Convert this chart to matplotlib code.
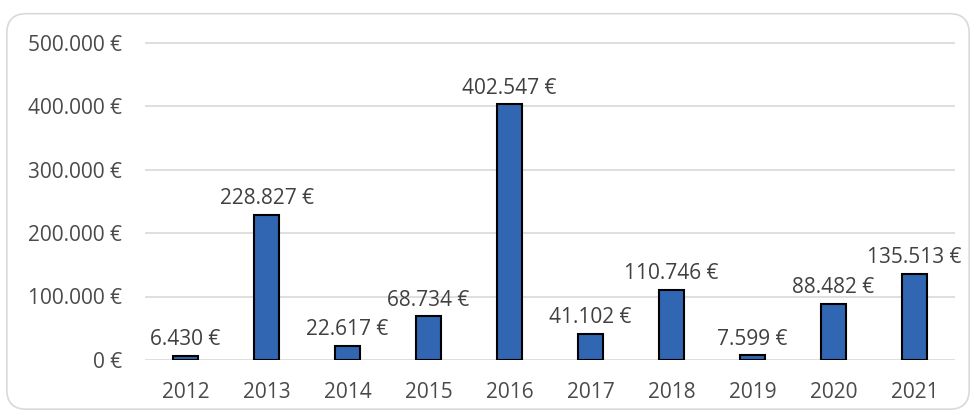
import matplotlib.pyplot as plt
from matplotlib.patches import FancyBboxPatch

years = ['2012', '2013', '2014', '2015', '2016', '2017', '2018', '2019', '2020', '2021']
values = [6430, 228827, 22617, 68734, 402547, 41102, 110746, 7599, 88482, 135513]
labels = ['6.430 €', '228.827 €', '22.617 €', '68.734 €', '402.547 €',
          '41.102 €', '110.746 €', '7.599 €', '88.482 €', '135.513 €']
yticks = [0, 100000, 200000, 300000, 400000, 500000]
ytick_labels = ['0 €', '100.000 €', '200.000 €', '300.000 €', '400.000 €', '500.000 €']

plt.rcParams['font.family'] = ['Open Sans', 'DejaVu Sans']

fig = plt.figure(figsize=(9.76, 4.15), dpi=100)
ax = fig.add_axes([145/976, 55/415, 810/976, 317.5/415])

# rounded chart border
border = FancyBboxPatch((0.007, 0.014), 0.986, 0.953, boxstyle='round,pad=0,rounding_size=0.02',
                        transform=fig.transFigure, facecolor='none', edgecolor='#d9d9d9',
                        linewidth=1.2, mutation_aspect=976/415)
fig.patches.append(border)

x = range(len(years))
bars = ax.bar(x, values, width=0.32, color='#3066B2', edgecolor='black', linewidth=1.5, zorder=3)

for xi, v, lab in zip(x, values, labels):
    ax.annotate(lab, (xi, v), xytext=(0, 4), textcoords='offset points',
                ha='center', va='bottom', fontsize=15, color='#404040')

ax.set_xlim(-0.5, len(years) - 0.5)
ax.set_ylim(0, 500000)
ax.set_yticks(yticks)
ax.set_yticklabels(ytick_labels)
ax.set_xticks(list(x))
ax.set_xticklabels(years)
ax.grid(axis='y', color='#d9d9d9', linewidth=1.2, zorder=0)
for s in ax.spines.values():
    s.set_visible(False)
ax.tick_params(axis='both', length=0, labelsize=15, labelcolor='#4a4a4a')
ax.tick_params(axis='y', pad=16.5)
ax.tick_params(axis='x', pad=16)

plt.savefig('out.png', dpi=100)
